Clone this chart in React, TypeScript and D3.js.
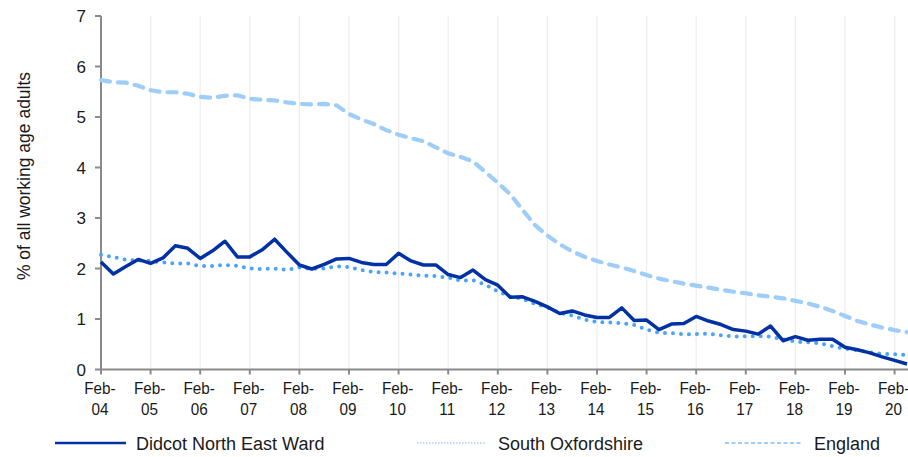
import React, { useEffect, useRef, ReactElement } from 'react'
import * as d3 from 'd3'

// quarterly claimant rate, Feb-04 .. May-20
const years = ['04', '05', '06', '07', '08', '09', '10', '11', '12', '13', '14', '15', '16', '17', '18', '19', '20']
const months = ['Feb', 'May', 'Aug', 'Nov']
const quarterLabels = years.flatMap(y => months.map(m => `${m}-${y}`)).slice(0, 66)

const didcot = [
  2.13, 1.89, 2.04, 2.18, 2.10, 2.21, 2.45, 2.40, 2.20, 2.35, 2.54, 2.23, 2.23, 2.37, 2.58, 2.32,
  2.07, 1.99, 2.08, 2.19, 2.20, 2.12, 2.08, 2.08, 2.30, 2.15, 2.07, 2.07, 1.88, 1.82, 1.97, 1.78,
  1.67, 1.43, 1.44, 1.35, 1.24, 1.11, 1.16, 1.08, 1.03, 1.03, 1.22, 0.97, 0.98, 0.79, 0.90, 0.91,
  1.05, 0.96, 0.89, 0.79, 0.76, 0.70, 0.86, 0.57, 0.65, 0.58, 0.60, 0.60, 0.44, 0.39, 0.33, 0.25,
  0.18, 0.11
]

const southOxfordshire = [
  2.27, 2.23, 2.17, 2.16, 2.15, 2.12, 2.10, 2.10, 2.05, 2.05, 2.07, 2.05, 2.00, 1.99, 2.00, 1.97,
  2.02, 1.99, 2.00, 2.04, 2.03, 1.97, 1.93, 1.92, 1.90, 1.88, 1.86, 1.85, 1.82, 1.76, 1.77, 1.68,
  1.55, 1.44, 1.40, 1.30, 1.23, 1.12, 1.07, 0.99, 0.94, 0.93, 0.92, 0.88, 0.79, 0.73, 0.72, 0.70,
  0.70, 0.71, 0.68, 0.65, 0.66, 0.66, 0.65, 0.60, 0.55, 0.54, 0.52, 0.46, 0.41, 0.38, 0.34, 0.31,
  0.30, 0.29
]

const england = [
  5.73, 5.69, 5.68, 5.62, 5.53, 5.49, 5.49, 5.46, 5.40, 5.38, 5.42, 5.43, 5.36, 5.34, 5.33, 5.29,
  5.26, 5.25, 5.26, 5.23, 5.06, 4.95, 4.86, 4.74, 4.65, 4.58, 4.52, 4.40, 4.28, 4.21, 4.12, 3.91,
  3.70, 3.47, 3.16, 2.86, 2.65, 2.48, 2.34, 2.23, 2.15, 2.08, 2.02, 1.95, 1.87, 1.80, 1.75, 1.70,
  1.66, 1.62, 1.58, 1.54, 1.51, 1.47, 1.44, 1.41, 1.36, 1.31, 1.24, 1.16, 1.06, 0.96, 0.89, 0.83,
  0.78, 0.74
]

const yTicks = [0, 1, 2, 3, 4, 5, 6, 7]
const seriesNames = ['Didcot North East Ward', 'South Oxfordshire', 'England']

const W = 908
const H = 457

const Chart = (): ReactElement => {
  const ref = useRef<SVGSVGElement>(null)

  useEffect(() => {
    const svg = d3.select(ref.current)
    svg.selectAll('*').remove()

    const margin = { top: 16, right: 1, bottom: 87.5, left: 101 }
    const x = d3.scalePoint<string>()
      .domain(quarterLabels)
      .range([margin.left, W - margin.right])
    const y = d3.scaleLinear()
      .domain([0, 7])
      .range([H - margin.bottom, margin.top])

    const font = '"Liberation Sans", Arial, sans-serif'
    const febTicks = quarterLabels.filter(q => q.startsWith('Feb'))

    // vertical gridlines
    svg.append('g')
      .selectAll('line')
      .data(febTicks.slice(1))
      .join('line')
      .attr('x1', d => x(d)!)
      .attr('x2', d => x(d)!)
      .attr('y1', y(7))
      .attr('y2', y(0))
      .attr('stroke', '#ececec')
      .attr('stroke-width', 1.2)

    const axisColor = '#8a8a8a'

    // y axis
    const yAxis = svg.append('g')
    yAxis.append('line')
      .attr('x1', margin.left).attr('x2', margin.left)
      .attr('y1', y(7)).attr('y2', y(0))
      .attr('stroke', axisColor).attr('stroke-width', 2)
    yAxis.selectAll('line.tick')
      .data(yTicks)
      .join('line')
      .attr('class', 'tick')
      .attr('x1', margin.left - 6).attr('x2', margin.left)
      .attr('y1', d => y(d)).attr('y2', d => y(d))
      .attr('stroke', axisColor).attr('stroke-width', 2)
    yAxis.selectAll('text')
      .data(yTicks)
      .join('text')
      .attr('x', 86)
      .attr('y', d => y(d) + 6)
      .attr('text-anchor', 'end')
      .style('font-family', font)
      .style('font-size', '17px')
      .style('fill', '#1a1a1a')
      .text(d => d)

    svg.append('text')
      .attr('transform', `translate(30,176) rotate(-90)`)
      .attr('text-anchor', 'middle')
      .style('font-family', font)
      .style('font-size', '17.5px')
      .style('fill', '#1a1a1a')
      .text('% of all working age adults')

    // x axis
    const xAxis = svg.append('g')
    xAxis.append('line')
      .attr('x1', margin.left).attr('x2', W)
      .attr('y1', y(0)).attr('y2', y(0))
      .attr('stroke', axisColor).attr('stroke-width', 2)
    xAxis.selectAll('line.tick')
      .data(febTicks)
      .join('line')
      .attr('class', 'tick')
      .attr('x1', d => x(d)!).attr('x2', d => x(d)!)
      .attr('y1', y(0)).attr('y2', y(0) + 5)
      .attr('stroke', axisColor).attr('stroke-width', 2)
    const lbl = xAxis.selectAll('text')
      .data(febTicks)
      .join('text')
      .attr('text-anchor', 'middle')
      .attr('transform', d => `translate(${x(d)! - 1},0) scale(0.9,1)`)
      .style('font-family', font)
      .style('font-size', '17px')
      .style('fill', '#1a1a1a')
    lbl.append('tspan').attr('x', 0).attr('y', 394).text('Feb-')
    lbl.append('tspan').attr('x', 0).attr('y', 415).text(d => d.slice(4))

    // series
    const series = [
      { name: seriesNames[0], values: didcot, color: '#0131a4', width: 3.5, dash: null as string | null },
      { name: seriesNames[1], values: southOxfordshire, color: '#4aa3fb', width: 4, dash: '0 8' },
      { name: seriesNames[2], values: england, color: '#9ecdfa', width: 4.2, dash: '9 8' }
    ]
    const line = d3.line<number>()
      .x((_, i) => x(quarterLabels[i])!)
      .y(d => y(d))

    // draw England first, Didcot on top
    svg.append('g')
      .selectAll('path')
      .data([series[2], series[1], series[0]])
      .join('path')
      .attr('d', d => line(d.values))
      .attr('fill', 'none')
      .attr('stroke', d => d.color)
      .attr('stroke-width', d => d.width)
      .attr('stroke-dasharray', d => d.dash)
      .attr('stroke-linecap', d => d.dash ? 'round' : 'butt')
      .attr('stroke-linejoin', 'round')

    // legend
    const legend = [
      { x0: 55, x1: 126, tx: 136, color: '#0131a4', width: 2.5, dash: null as string | null },
      { x0: 417, x1: 485, tx: 498, color: '#aad0f7', width: 1.5, dash: '1.5 1.5' },
      { x0: 725, x1: 801, tx: 814, color: '#9ecdfa', width: 2, dash: '4 2.5' }
    ]
    const lg = svg.append('g')
      .selectAll('g')
      .data(legend)
      .join('g')
    lg.append('line')
      .attr('x1', d => d.x0).attr('x2', d => d.x1)
      .attr('y1', 443).attr('y2', 443)
      .attr('stroke', d => d.color)
      .attr('stroke-width', d => d.width)
      .attr('stroke-dasharray', d => d.dash)
    lg.append('text')
      .attr('x', d => d.tx)
      .attr('y', 449.5)
      .style('font-family', font)
      .style('font-size', '18px')
      .style('fill', '#1a1a1a')
      .text((_, i) => seriesNames[i])
  }, [])

  return (
    <svg ref={ref} width={W} height={H}
      style={{ position: 'absolute', left: 0, top: 0, background: '#fff' }} />
  )
}

export default function App (): ReactElement {
  return <Chart />
}
